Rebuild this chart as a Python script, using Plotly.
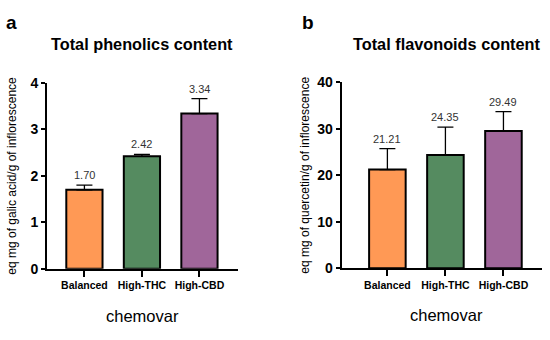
import plotly.graph_objects as go

categories = ["Balanced", "High-THC", "High-CBD"]
phenolics = [1.70, 2.42, 3.34]
phenolics_err = [0.10, 0.04, 0.32]
flavonoids = [21.21, 24.35, 29.49]
flavonoids_err = [4.5, 6.0, 4.2]
colors = ["#FF9955", "#558B60", "#A0669A"]

FONT = "Liberation Sans, Arial, sans-serif"

fig = go.Figure()

def add_panel(vals, errs, xa, ya, fmt):
    fig.add_trace(go.Bar(
        x=categories, y=vals, xaxis=xa, yaxis=ya, width=0.63,
        marker=dict(color=colors, line=dict(color="black", width=2)),
        error_y=dict(type="data", symmetric=False, array=errs,
                     arrayminus=[0] * len(errs), color="black", thickness=1.3, width=8),
        showlegend=False, hoverinfo="skip"))
    for c, v, e in zip(categories, vals, errs):
        fig.add_annotation(x=c, y=v + e, xref=xa, yref=ya, text=fmt.format(v),
                           showarrow=False, yanchor="middle", yshift=10,
                           font=dict(family=FONT, size=11, color="#333333"))

add_panel(phenolics, phenolics_err, "x", "y", "{:.2f}")
add_panel(flavonoids, flavonoids_err, "x2", "y2", "{:.2f}")

xcommon = dict(showline=True, linecolor="black", linewidth=2, ticks="outside",
               ticklen=6, tickwidth=2, tickcolor="black", showgrid=False,
               tickfont=dict(family=FONT, size=10.5, color="black", weight="bold"))
ycommon = dict(showline=True, linecolor="black", linewidth=2, ticks="outside",
               ticklen=4, tickwidth=2, tickcolor="black", showgrid=False, zeroline=False,
               tickfont=dict(family=FONT, size=14, color="black", weight="bold"))

fig.update_layout(
    width=550, height=340, margin=dict(l=0, r=0, t=0, b=0),
    paper_bgcolor="white", plot_bgcolor="white",
    xaxis=dict(domain=[0.0855, 0.4327], range=[-0.65, 2.67], **xcommon),
    yaxis=dict(domain=[0.195, 0.769], range=[0, 4], dtick=1, **ycommon),
    xaxis2=dict(domain=[0.621, 0.985], range=[-0.79, 2.66], anchor="y2", **xcommon),
    yaxis2=dict(domain=[0.197, 0.771], range=[0, 40], dtick=10, anchor="x2", **ycommon),
)

ann = [
    dict(text="a", x=11, y=15, size=19, w="bold"),
    dict(text="b", x=308, y=15, size=19, w="bold"),
    dict(text="Total phenolics content", x=142, y=38, size=16.3, w="bold"),
    dict(text="Total flavonoids content", x=447, y=38, size=16.3, w="bold"),
    dict(text="chemovar", x=142, y=323, size=16.5, w="normal"),
    dict(text="chemovar", x=446, y=322, size=16.5, w="normal"),
]
for a in ann:
    fig.add_annotation(text=a["text"], x=a["x"] / 550, y=1 - a["y"] / 340,
                       xref="paper", yref="paper", showarrow=False,
                       xanchor="center", yanchor="middle",
                       font=dict(family=FONT, size=a["size"], color="black", weight=a["w"]))

fig.add_annotation(text="eq mg of galic acid/g of inflorescence", x=12 / 550, y=1 - 176 / 340,
                   xref="paper", yref="paper", showarrow=False, textangle=-90,
                   xanchor="center", yanchor="middle",
                   font=dict(family=FONT, size=12, color="black"))
fig.add_annotation(text="eq mg of quercetin/g of inflorescence", x=305 / 550, y=1 - 176 / 340,
                   xref="paper", yref="paper", showarrow=False, textangle=-90,
                   xanchor="center", yanchor="middle",
                   font=dict(family=FONT, size=12, color="black"))

fig.write_html("out.html", config={"displayModeBar": False},
               post_script="document.body.style.margin='0';")
